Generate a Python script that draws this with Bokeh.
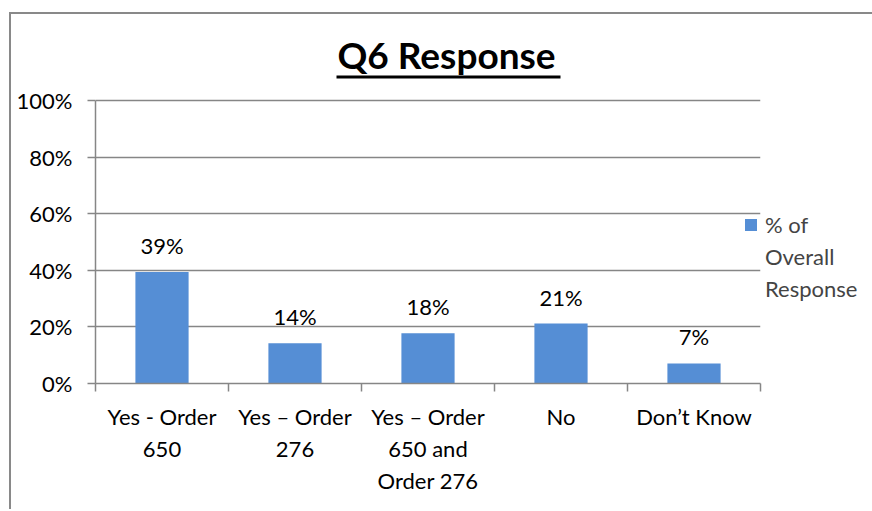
from bokeh.plotting import figure
from bokeh.models import (ColumnDataSource, FixedTicker, Legend, LegendItem, Label,
                          BoxAnnotation)
from bokeh.core.properties import value
from bokeh.embed import file_html
from bokeh.resources import INLINE

categories = ["Yes - Order\n650", "Yes \u2013 Order\n276", "Yes \u2013 Order\n650 and\nOrder 276", "No", "Don\u2019t Know"]
pct = [39.4, 14.2, 17.8, 21.2, 7.1]
series_lines = ["% of", "Overall", "Response"]
title_text = "Q6 Response"
y_ticks = [0, 20, 40, 60, 80, 100]

FONT = "Lato"
GRAY = "#868686"
BLUE = "#558ED5"

xs = [i + 0.5 for i in range(len(categories))]
labels = ["%d%%" % round(v) for v in pct]
src = ColumnDataSource(dict(x=xs, top=pct, lab=labels))

p = figure(frame_width=665, frame_height=369, min_border_left=84, min_border_right=112,
           min_border_top=0, min_border_bottom=126, title=None,
           x_range=(0, len(categories)), y_range=(0, 130.4),
           output_backend="svg", toolbar_location=None)
p.margin = (12, 0, 0, 9)
p.styles = {"border-left": "2px solid #898989", "border-top": "2px solid #898989"}
p.outline_line_color = None
p.background_fill_color = "white"
p.border_fill_color = "white"

r = p.vbar(x="x", top="top", width=0.4, bottom=0, source=src, fill_color=BLUE, line_color=None)
p.text(x="x", y="top", text="lab", source=src, text_align="center", text_baseline="bottom",
       y_offset=-13, text_font=value(FONT), text_font_size="22px", text_color="black")
ghost = p.vbar(x=[], top=[], width=0.4, fill_alpha=0, line_alpha=0)

# y axis
ya = p.yaxis[0]
ya.bounds = (0, 100)
ya.ticker = FixedTicker(ticks=y_ticks)
ya.major_label_overrides = {t: "%d%%" % t for t in y_ticks}
ya.axis_line_color = GRAY
ya.axis_line_width = 1.5
ya.major_tick_line_color = GRAY
ya.major_tick_line_width = 1.5
ya.major_tick_out = 8
ya.major_tick_in = 0
ya.minor_tick_line_color = None
ya.major_label_standoff = 15
ya.major_label_text_font = FONT
ya.major_label_text_font_size = "22px"
ya.major_label_text_color = "black"

# x axis: labels at centres, ticks at boundaries
xa = p.xaxis[0]
xa.ticker = FixedTicker(ticks=xs, minor_ticks=list(range(len(categories) + 1)))
xa.major_label_overrides = {x: c for x, c in zip(xs, categories)}
xa.axis_line_color = GRAY
xa.axis_line_width = 1.5
xa.major_tick_line_color = None
xa.minor_tick_line_color = GRAY
xa.minor_tick_line_width = 1.5
xa.minor_tick_out = 8
xa.minor_tick_in = 0
xa.major_label_standoff = 11
xa.major_label_text_font = FONT
xa.major_label_text_font_size = "22px"
xa.major_label_text_color = "black"

p.xgrid.grid_line_color = None
p.ygrid.ticker = FixedTicker(ticks=y_ticks)
p.ygrid.grid_line_color = GRAY
p.ygrid.grid_line_width = 1.5

items = [LegendItem(label=series_lines[0], renderers=[r])]
items += [LegendItem(label=t, renderers=[ghost]) for t in series_lines[1:]]
legend = Legend(items=items, location=(-17, 81), padding=0, margin=0, spacing=5,
                glyph_width=15, glyph_height=15, label_standoff=7,
                label_text_font=FONT, label_text_font_size="22px",
                background_fill_alpha=0, border_line_color=None,
                inactive_fill_alpha=0)
p.add_layout(legend, "right")

title = Label(x=351, y=329, x_units="screen", y_units="screen", text=title_text,
              text_align="center", text_baseline="alphabetic", text_font=FONT,
              text_font_size="37px", text_font_style="bold", text_color="black")
p.add_layout(title)
underline = BoxAnnotation(left=241, right=465, bottom=305, top=308,
                          left_units="screen", right_units="screen",
                          bottom_units="screen", top_units="screen",
                          fill_color="black", fill_alpha=1, line_color=None)
p.add_layout(underline)

open("out.html", "w").write(file_html(p, INLINE))
